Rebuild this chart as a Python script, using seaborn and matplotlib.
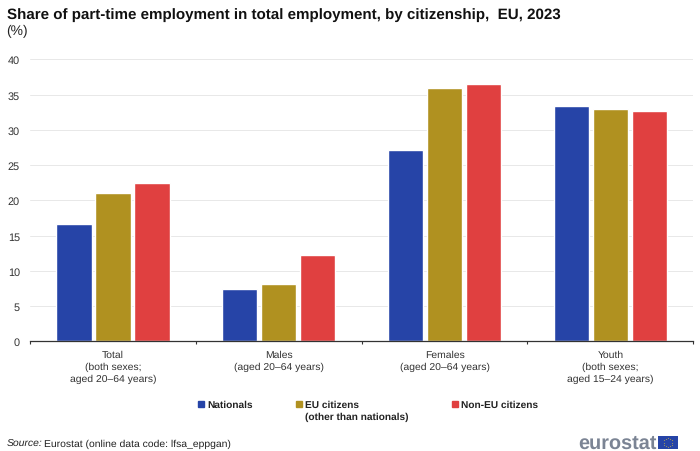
import numpy as np
import pandas as pd
import seaborn as sns
import matplotlib.pyplot as plt
from matplotlib.patches import Rectangle

categories = ['Total\n(both sexes;\naged 20–64 years)', 'Males\n(aged 20–64 years)',
              'Females\n(aged 20–64 years)', 'Youth\n(both sexes;\naged 15–24 years)']
nationals = [16.6, 7.4, 27.1, 33.4]
eu_citizens = [21.1, 8.2, 36.0, 33.0]
non_eu_citizens = [22.4, 12.2, 36.5, 32.6]
series_names = ['Nationals', 'EU citizens\n(other than nationals)', 'Non-EU citizens']
colors = ['#2644A7', '#B09120', '#E04040']
y_ticks = [0, 5, 10, 15, 20, 25, 30, 35, 40]

W, H = 700, 452

df = pd.DataFrame({'category': categories, series_names[0]: nationals,
                   series_names[1]: eu_citizens, series_names[2]: non_eu_citizens})
df = df.melt(id_vars='category', var_name='series', value_name='value')

sns.set_theme(style='white')
plt.rcParams['font.family'] = ['Liberation Sans', 'DejaVu Sans']
plt.rcParams['text.hinting'] = 'no_hinting'

fig = plt.figure(figsize=(W / 100, H / 100), dpi=100)
ax = fig.add_axes([30 / W, 1 - 342.4 / H, 663.3 / W, 282.1 / H])

sns.barplot(data=df, x='category', y='value', hue='series', order=categories,
            hue_order=series_names, palette=colors, saturation=1,
            width=0.705, gap=0.09, ax=ax, legend=False)

ax.set_xlim(-0.5, 3.5)
ax.set_ylim(0, 40)
ax.set_yticks(y_ticks)
ax.set_xlabel('')
ax.set_ylabel('')
ax.yaxis.grid(True, color='#E8E8E8', linewidth=0.7)
ax.set_axisbelow(True)
ax.spines[['top', 'right', 'left']].set_visible(False)
ax.spines['bottom'].set_color('#333333')
ax.spines['bottom'].set_linewidth(0.9)

# ticks sit between the groups, labels in the middle
ax.set_xticks([-0.5, 0.5, 1.5, 2.5, 3.5])
ax.set_xticklabels([])
ax.tick_params(axis='x', which='major', bottom=True, length=2, width=0.8, color='#333333', direction='out')
ax.set_xticks([0, 1, 2, 3], minor=True)
ax.set_xticklabels(categories, minor=True, fontsize=7.5, color='#333333', linespacing=1.36)
ax.tick_params(axis='x', which='minor', bottom=False, pad=2)
ax.tick_params(axis='y', left=False, labelsize=7.8, labelcolor='#333333', pad=1.3)

# legend drawn by hand, the two-line entry keeps its first line level with the others
legend_x = [198, 296, 452]
for name, color, x in zip(series_names, colors, legend_x):
    fig.patches.append(Rectangle((x / W, 1 - 407.5 / H), 6 / W, 6 / H, color=color,
                                 transform=fig.transFigure))
    for i, line in enumerate(name.split('\n')):
        fig.text((x + 9) / W, 1 - (408 + 12 * i) / H, line, fontsize=7.3, fontweight='bold', color='#222222')

fig.text(7 / W, 1 - 18.5 / H, 'Share of part-time employment in total employment, by citizenship,  EU, 2023',
         fontsize=10.88, fontweight='bold', color='#111111', va='baseline')
fig.text(6.5 / W, 1 - 35 / H, '(%)', fontsize=10, color='#222222', va='baseline')

fig.text(7 / W, 1 - 446.5 / H, 'Source:', fontsize=7.5, style='italic', color='#222222', va='baseline')
fig.text(44.3 / W, 1 - 446.5 / H, 'Eurostat (online data code: lfsa_eppgan)', fontsize=7.5, color='#222222', va='baseline')

# eurostat logo
fig.text(578 / W, 1 - 449 / H, 'eurostat', fontsize=14.3, fontweight='bold', color='#7B8494', va='baseline')
flag = fig.add_axes([658 / W, 1 - 450 / H, 20 / W, 13 / H])
flag.set_facecolor('#2644A7')
flag.set_xlim(-1.5, 1.5)
flag.set_ylim(-1, 1)
flag.set_xticks([])
flag.set_yticks([])
flag.spines[:].set_visible(False)
angles = np.arange(12) * np.pi / 6
flag.scatter(0.62 * np.cos(angles), 0.62 * np.sin(angles), s=1.2, color='#E8C832', marker='*', linewidths=0)

fig.savefig('out.png', dpi=100)
